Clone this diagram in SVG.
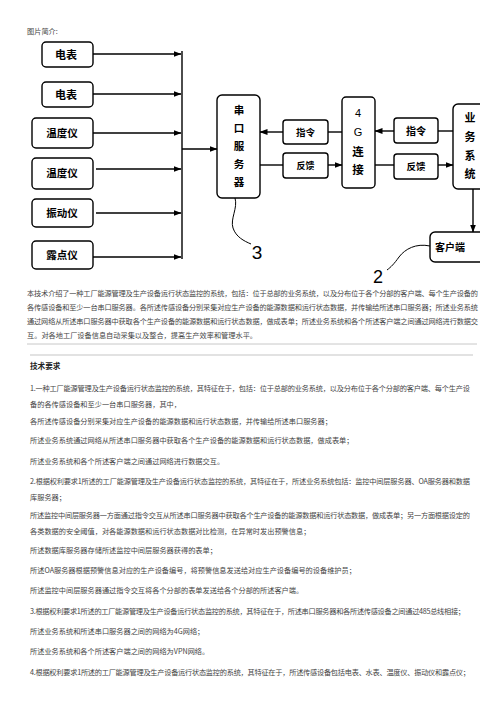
<svg xmlns="http://www.w3.org/2000/svg" width="504" height="713" viewBox="0 0 504 713">
<style>
.box{fill:#fff;stroke:#000;stroke-width:1.4}
.lbl{font-family:"Noto Sans CJK SC","Liberation Sans",sans-serif;font-weight:bold;fill:#000;text-anchor:middle}
.con{stroke:#000;stroke-width:1.4;fill:none}
.call{stroke:#000;stroke-width:1;fill:none}
.num{font-family:"Liberation Sans",Arial,sans-serif;fill:#000;text-anchor:middle}
.body{font-family:"Noto Sans CJK SC","Liberation Serif",serif;font-size:7.2px;fill:#444}
.hd{font-family:"Noto Sans CJK SC","Liberation Serif",serif;font-size:7.6px;font-weight:bold;fill:#222}
</style>
<defs>
<marker id="ah" markerWidth="8" markerHeight="6" refX="7.5" refY="3" orient="auto" markerUnits="userSpaceOnUse"><path d="M0,0 L8,3 L0,6 z" fill="#000"/></marker>
<clipPath id="clipR"><rect x="0" y="0" width="480" height="713"/></clipPath>
</defs>
<rect width="504" height="713" fill="#fff"/>
<text class="body" x="27" y="33.5" font-size="7">图片简介:</text>

<g id="n-dianbiao1"><rect class="box" x="42" y="42" width="51" height="25" rx="4"/><text class="lbl" x="66" y="58.5" font-size="11">电表</text></g>
<g id="n-dianbiao2"><rect class="box" x="42" y="82" width="51" height="25" rx="4"/><text class="lbl" x="66" y="98.5" font-size="11">电表</text></g>
<g id="n-wendu1"><rect class="box" x="32" y="118" width="61" height="30" rx="4"/><text class="lbl" x="62" y="137" font-size="10.5">温度仪</text></g>
<g id="n-wendu2"><rect class="box" x="32" y="158" width="61" height="31" rx="4"/><text class="lbl" x="62" y="177" font-size="10.5">温度仪</text></g>
<g id="n-zhendong"><rect class="box" x="32" y="199" width="61" height="28" rx="4"/><text class="lbl" x="62" y="217" font-size="10.5">振动仪</text></g>
<g id="n-ludian"><rect class="box" x="32" y="241" width="61" height="28" rx="4"/><text class="lbl" x="62" y="259" font-size="10.5">露点仪</text></g>

<g id="n-chuankou"><rect class="box" x="217" y="95" width="43" height="103" rx="5"/>
<text class="lbl" font-size="10.5"><tspan x="239" y="114">串</tspan><tspan x="239" y="132">口</tspan><tspan x="239" y="150">服</tspan><tspan x="239" y="168">务</tspan><tspan x="239" y="186">器</tspan></text></g>
<g id="n-zhiling1"><rect class="box" x="283" y="120" width="45" height="24" rx="3"/><text class="lbl" x="305.5" y="135.5" font-size="9.5">指令</text></g>
<g id="n-fankui1"><rect class="box" x="283" y="153" width="45" height="25" rx="3"/><text class="lbl" x="305.5" y="169" font-size="9">反馈</text></g>
<g id="n-4g"><rect class="box" x="342" y="97" width="33" height="91" rx="4"/>
<text class="num" font-size="11"><tspan x="358" y="117">4</tspan><tspan x="358" y="136">G</tspan></text>
<text class="lbl" font-size="11.5"><tspan x="358" y="155.5">连</tspan><tspan x="358" y="174">接</tspan></text></g>
<g id="n-zhiling2"><rect class="box" x="394" y="118" width="44" height="25" rx="3"/><text class="lbl" x="416" y="134.5" font-size="10">指令</text></g>
<g id="n-fankui2"><rect class="box" x="394" y="154" width="44" height="25" rx="3"/><text class="lbl" x="416" y="170" font-size="9.5">反馈</text></g>
<g id="n-yewu" clip-path="url(#clipR)"><rect class="box" x="453" y="104" width="60" height="85" rx="5"/>
<text class="lbl" font-size="11"><tspan x="470" y="122">业</tspan><tspan x="470" y="141">务</tspan><tspan x="470" y="159.5">系</tspan><tspan x="470" y="178">统</tspan></text></g>
<g id="n-kehuduan" clip-path="url(#clipR)"><rect class="box" x="430" y="232" width="80" height="30" rx="5"/><text class="lbl" x="450" y="250.5" font-size="10" text-anchor="start">客户端</text></g>

<g id="connectors">
<line class="con" x1="93" y1="54" x2="181" y2="54" marker-end="url(#ah)"/>
<line class="con" x1="93" y1="94" x2="181" y2="94" marker-end="url(#ah)"/>
<line class="con" x1="93" y1="133" x2="181" y2="133" marker-end="url(#ah)"/>
<line class="con" x1="96" y1="169" x2="181" y2="169" marker-end="url(#ah)"/>
<line class="con" x1="96" y1="213" x2="181" y2="213" marker-end="url(#ah)"/>
<line class="con" x1="93" y1="257" x2="181" y2="257" marker-end="url(#ah)"/>
<line class="con" x1="182" y1="51" x2="182" y2="259"/>
<line class="con" x1="182" y1="149" x2="217" y2="149" marker-end="url(#ah)"/>
<line class="con" x1="342" y1="132" x2="328" y2="132"/>
<line class="con" x1="283" y1="132" x2="260" y2="132" marker-end="url(#ah)"/>
<line class="con" x1="260" y1="165" x2="283" y2="165"/>
<line class="con" x1="328" y1="165" x2="342" y2="165" marker-end="url(#ah)"/>
<line class="con" x1="453" y1="131" x2="438" y2="131"/>
<line class="con" x1="394" y1="131" x2="375" y2="131" marker-end="url(#ah)"/>
<line class="con" x1="375" y1="165" x2="394" y2="165"/>
<line class="con" x1="438" y1="165" x2="453" y2="165" marker-end="url(#ah)"/>
<line class="con" x1="473" y1="189" x2="473" y2="232" marker-end="url(#ah)"/>
</g>

<g id="callouts">
<path class="call" d="M235,198 C238,208 230,219 233,228 C236,237 244,241 251,244"/>
<text class="num" x="257" y="259" font-size="19">3</text>
<path class="call" d="M430,246 C416,243 405,249 399,257 C394,264 391,267 387,270"/>
<text class="num" x="378" y="283" font-size="18">2</text>
</g>

<g id="text">
<text class="body" x="27" y="295.5" textLength="451" lengthAdjust="spacing">本技术介绍了一种工厂能源管理及生产设备运行状态监控的系统，包括：位于总部的业务系统，以及分布位于各个分部的客户端、每个生产设备的</text>
<text class="body" x="27" y="309.5" textLength="451" lengthAdjust="spacing">各传感设备和至少一台串口服务器。各所述传感设备分别采集对应生产设备的能源数据和运行状态数据，并传输给所述串口服务器；所述业务系统</text>
<text class="body" x="27" y="324" textLength="451" lengthAdjust="spacing">通过网络从所述串口服务器中获取各个生产设备的能源数据和运行状态数据，做成表单；所述业务系统和各个所述客户端之间通过网络进行数据交</text>
<text class="body" x="27" y="337.5">互。对各地工厂设备信息自动采集以及整合，提高生产效率和管理水平。</text>
<line x1="27" y1="344" x2="477" y2="344" stroke="#c8c8c8" stroke-width="1"/>
<line x1="30" y1="355" x2="473" y2="355" stroke="#e2e2e2" stroke-width="2"/>
<text class="hd" x="30" y="369">技术要求</text>
<text class="body" x="30" y="390.5" textLength="440" lengthAdjust="spacing">1.一种工厂能源管理及生产设备运行状态监控的系统，其特征在于，包括：位于总部的业务系统，以及分布位于各个分部的客户端、每个生产设</text>
<text class="body" x="30" y="406.5">备的各传感设备和至少一台串口服务器，其中，</text>
<text class="body" x="30" y="423.5">各所述传感设备分别采集对应生产设备的能源数据和运行状态数据，并传输给所述串口服务器；</text>
<text class="body" x="30" y="442.5">所述业务系统通过网络从所述串口服务器中获取各个生产设备的能源数据和运行状态数据，做成表单；</text>
<text class="body" x="30" y="463.5">所述业务系统和各个所述客户端之间通过网络进行数据交互。</text>
<text class="body" x="30" y="483.5" textLength="440" lengthAdjust="spacing">2.根据权利要求1所述的工厂能源管理及生产设备运行状态监控的系统，其特征在于，所述业务系统包括：监控中间层服务器、OA服务器和数据</text>
<text class="body" x="30" y="499.5">库服务器；</text>
<text class="body" x="30" y="517.5" textLength="440" lengthAdjust="spacing">所述监控中间层服务器一方面通过指令交互从所述串口服务器中获取各个生产设备的能源数据和运行状态数据，做成表单；另一方面根据设定的</text>
<text class="body" x="30" y="533.5">各类数据的安全阈值，对各能源数据和运行状态数据对比检测，在异常时发出预警信息；</text>
<text class="body" x="30" y="552.5">所述数据库服务器存储所述监控中间层服务器获得的表单；</text>
<text class="body" x="30" y="572.5">所述OA服务器根据预警信息对应的生产设备编号，将预警信息发送给对应生产设备编号的设备维护员；</text>
<text class="body" x="30" y="592.5">所述监控中间层服务器通过指令交互将各个分部的表单发送给各个分部的所述客户端。</text>
<text class="body" x="30" y="613.5" textLength="435" lengthAdjust="spacing">3.根据权利要求1所述的工厂能源管理及生产设备运行状态监控的系统，其特征在于，所述串口服务器和各所述传感设备之间通过485总线相接；</text>
<text class="body" x="30" y="633.5">所述业务系统和所述串口服务器之间的网络为4G网络；</text>
<text class="body" x="30" y="653.5">所述业务系统和各个所述客户端之间的网络为VPN网络。</text>
<text class="body" x="30" y="674.5" textLength="440" lengthAdjust="spacing">4.根据权利要求1所述的工厂能源管理及生产设备运行状态监控的系统，其特征在于，所述传感设备包括电表、水表、温度仪、振动仪和露点仪；</text>
</g>
</svg>
